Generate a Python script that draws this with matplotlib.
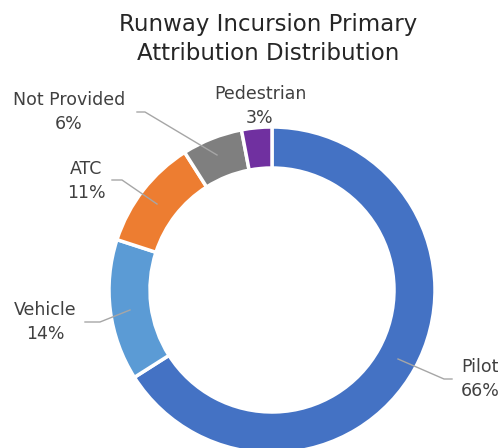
import matplotlib.pyplot as plt

plt.rcParams["font.family"] = ["DejaVu Sans"]

categories = ["Pilot", "Vehicle", "ATC", "Not Provided", "Pedestrian"]
shares = [66, 14, 11, 6, 3]
colors = ["#4472C4", "#5B9BD5", "#ED7D31", "#7F7F7F", "#7030A0"]

# label anchor (text centre) and leader line elbow, in pixel coords (y down)
label_pos = {
    "Pilot": (480, 379),
    "Vehicle": (45, 322),
    "ATC": (86, 181),
    "Not Provided": (69, 112),
    "Pedestrian": (260, 106),
}
elbows = {
    "Pilot": [(444, 379), (452, 379)],
    "Vehicle": [(100, 322), (85, 322)],
    "ATC": [(122, 180), (112, 180)],
    "Not Provided": [(145, 112), (137, 112)],
    "Pedestrian": None,
}
# where the leader line starts inside the ring
starts = {
    "Pilot": (398, 359),
    "Vehicle": (130, 310),
    "ATC": (157, 204),
    "Not Provided": (217, 155),
}

W, H = 501, 448
fig = plt.figure(figsize=(W / 100, H / 100), dpi=100)
ax = fig.add_axes([0, 0, 1, 1])

cx, cy, r = 272, H - 290, 163
ax.pie(shares, colors=colors, startangle=90, counterclock=False,
       center=(cx, cy), radius=r, frame=True,
       wedgeprops=dict(width=41, edgecolor="white", linewidth=2.5))
ax.set_xlim(0, W)
ax.set_ylim(0, H)
ax.set_aspect("equal")
ax.axis("off")

txt = "#404040"
for name, val in zip(categories, shares):
    lx, ly = label_pos[name]
    ax.text(lx, H - ly, f"{name}\n{val}%", ha="center", va="center",
            fontsize=12.5, color=txt, linespacing=1.45)
    if elbows[name]:
        pts = [starts[name]] + elbows[name]
        ax.plot([p[0] for p in pts], [H - p[1] for p in pts],
                color="#A6A6A6", lw=1)

ax.text(268, H - 39, "Runway Incursion Primary\nAttribution Distribution",
        ha="center", va="center", fontsize=16.5, color="#262626",
        linespacing=1.3)

fig.savefig("out.png", dpi=100)
